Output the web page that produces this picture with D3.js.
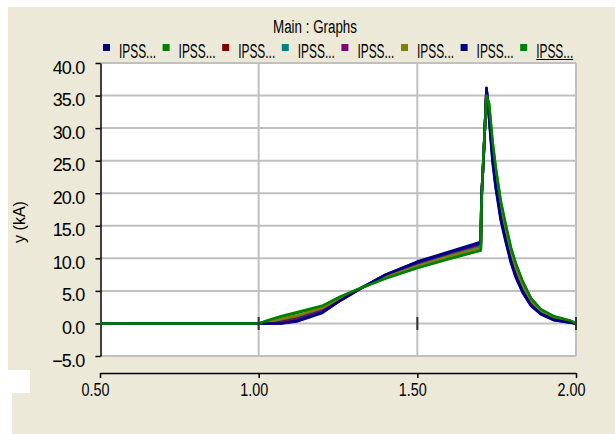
<!DOCTYPE html>
<html><head><meta charset="utf-8">
<script src="https://cdn.jsdelivr.net/npm/d3@7"></script>
<style>body{margin:0;background:#fff}svg{display:block}text{font-family:"Liberation Sans",Arial,sans-serif;fill:#000}</style>
</head><body><svg id="c" width="615" height="434"></svg>
<script>
const title = "Main : Graphs";
const yLabel = "y (kA)";
const legendNames = ["IPSS...","IPSS...","IPSS...","IPSS...","IPSS...","IPSS...","IPSS...","IPSS..."];
const colors = ["#000080","#008000","#800000","#008080","#800080","#808000","#000080","#008000"];
const xTicks = [0.5, 1.0, 1.5, 2.0];
const yTicks = [-5, 0, 5, 10, 15, 20, 25, 30, 35, 40];
const markerX = [1.0, 1.5, 2.0];
const t = [0.50,1.00,1.03,1.07,1.12,1.20,1.26,1.33,1.40,1.50,1.60,1.70,1.702,1.7085,1.718,1.726,1.737,1.747,1.763,1.779,1.795,1.810,1.832,1.858,1.889,1.931,1.984,2.00];
const s1 = [0,0,0,0,0.3,1.6,3.6,5.6,7.5,9.5,11.0,12.5,19.5,25.0,36.2,31.5,24.8,20.8,15.8,12.4,9.3,7.1,4.7,2.7,1.4,0.5,0.1,0];
const s2 = [0,0,0.4,1.0,1.6,2.6,4.1,5.6,7.0,8.6,10.0,11.3,18.5,25.6,35.2,33.6,27.8,23.8,18.6,14.9,11.5,9.1,6.3,3.8,2.1,1.0,0.35,0];
const s3 = [0,0,0.1,0.4,0.9,2.1,3.8,5.6,7.3,9.1,10.6,12.0,19.0,25.3,35.8,32.6,26.3,22.2,17.1,13.5,10.2,7.9,5.4,3.2,1.7,0.7,0.22,0];
const s4 = [0,0,0.2,0.6,1.1,2.3,3.9,5.6,7.2,8.9,10.4,11.8,19.0,25.4,35.6,32.9,26.7,22.6,17.5,13.9,10.6,8.3,5.7,3.4,1.8,0.8,0.26,0];
const s5 = [0,0,0,0.1,0.6,1.9,3.7,5.6,7.4,9.3,10.8,12.2,19.2,25.2,36.0,32.2,25.8,21.7,16.6,13.1,9.9,7.6,5.1,3.0,1.6,0.6,0.18,0];
const s6 = [0,0,0.2,0.7,1.2,2.4,4.0,5.6,7.1,8.8,10.3,11.6,18.8,25.5,35.5,33.1,27.0,23.0,17.9,14.3,10.9,8.6,5.9,3.5,1.9,0.9,0.3,0];
const s7 = [0,0,0,0,0.4,1.7,3.6,5.6,7.5,9.4,10.9,12.4,19.4,25.1,36.1,31.8,25.2,21.1,16.1,12.7,9.6,7.3,4.9,2.8,1.5,0.55,0.12,0];
const s8 = [0,0,0.5,1.1,1.7,2.7,4.2,5.6,6.9,8.5,9.9,11.2,18.4,25.7,35.0,33.8,28.0,24.0,18.8,15.1,11.7,9.3,6.5,3.9,2.2,1.1,0.4,0];
const series = [s1,s2,s3,s4,s5,s6,s7,s8];

const svg = d3.select("#c");
const beige = "#ECE9D8";
svg.append("rect").attr("x",8).attr("y",7).attr("width",607).attr("height",427).attr("fill",beige);
svg.append("rect").attr("x",0).attr("y",370).attr("width",30).attr("height",23).attr("fill","#fff");
svg.append("rect").attr("x",0).attr("y",393).attr("width",12).attr("height",41).attr("fill","#fff");

const L=100, R=576, T=63, B=356;
const x = d3.scaleLinear().domain([0.5,2.0]).range([L,R]);
const y = d3.scaleLinear().domain([-5,40]).range([B,T]);

svg.append("rect").attr("x",L).attr("y",T).attr("width",R-L).attr("height",B-T).attr("fill","#fff");
const grid = svg.append("g").attr("stroke","#c0c0c0").attr("stroke-width",2);
grid.selectAll("line.h").data(yTicks).join("line").attr("x1",L).attr("x2",R).attr("y1",d=>y(d)).attr("y2",d=>y(d));
grid.selectAll("line.v").data(xTicks.slice(1)).join("line").attr("y1",T).attr("y2",B).attr("x1",d=>x(d)).attr("x2",d=>x(d));

const ya = svg.append("g").attr("transform",`translate(${L+0.5},0)`)
  .call(d3.axisLeft(y).tickValues(yTicks).tickFormat(d3.format(".1f")).tickSize(5).tickSizeOuter(0));
ya.select(".domain").attr("stroke","#000").attr("stroke-width",1.5);
ya.selectAll(".tick line").attr("stroke","#000").attr("stroke-width",1.5);
ya.selectAll(".tick text").attr("x",-16).attr("dy",null).attr("y",10).attr("font-size",18).attr("font-family","Liberation Sans, Arial").attr("letter-spacing","-0.8px");

const xa = svg.append("g").attr("transform",`translate(0,373)`)
  .call(d3.axisBottom(x).tickValues(xTicks).tickFormat(d3.format(".2f")).tickSize(5).tickSizeOuter(0));
xa.select(".domain").attr("stroke","#000").attr("stroke-width",1.5);
xa.selectAll(".tick line").attr("stroke","#000").attr("stroke-width",1.5);
xa.selectAll(".tick text").attr("dy",null).attr("y",23).attr("x",-5).attr("font-size",18).attr("font-family","Liberation Sans, Arial")
  .attr("textLength",28).attr("lengthAdjust","spacingAndGlyphs");

const line = d3.line().x((d,i)=>x(t[i])).y(d=>y(d));
svg.append("g").selectAll("path").data(series).join("path")
  .attr("d",d=>line(d)).attr("fill","none").attr("stroke",(d,i)=>colors[i])
  .attr("stroke-width",2.6).attr("stroke-linejoin","round");

svg.append("g").selectAll("line").data(markerX).join("line")
  .attr("x1",d=>x(d)).attr("x2",d=>x(d)).attr("y1",y(1)).attr("y2",y(-1))
  .attr("stroke","#333").attr("stroke-width",2);

svg.append("text").attr("x",315).attr("y",33).attr("text-anchor","middle").attr("font-size",18)
  .attr("textLength",84).attr("lengthAdjust","spacingAndGlyphs").text(title);

const lg = svg.append("g");
const items = lg.selectAll("g").data(legendNames).join("g").attr("transform",(d,i)=>`translate(${103+i*59.6},0)`);
items.append("rect").attr("x",0).attr("y",44).attr("width",7).attr("height",7).attr("fill",(d,i)=>colors[i]);
items.append("text").attr("x",16).attr("y",58).attr("font-size",20)
  .attr("textLength",37).attr("lengthAdjust","spacingAndGlyphs").text(d=>d);
items.filter((d,i)=>i===legendNames.length-1).append("line")
  .attr("x1",16).attr("x2",53).attr("y1",59.5).attr("y2",59.5).attr("stroke","#000").attr("stroke-width",1);

svg.append("text").attr("transform","translate(25,222) rotate(-90)").attr("text-anchor","middle")
  .attr("font-size",16).text(yLabel);
</script></body></html>
